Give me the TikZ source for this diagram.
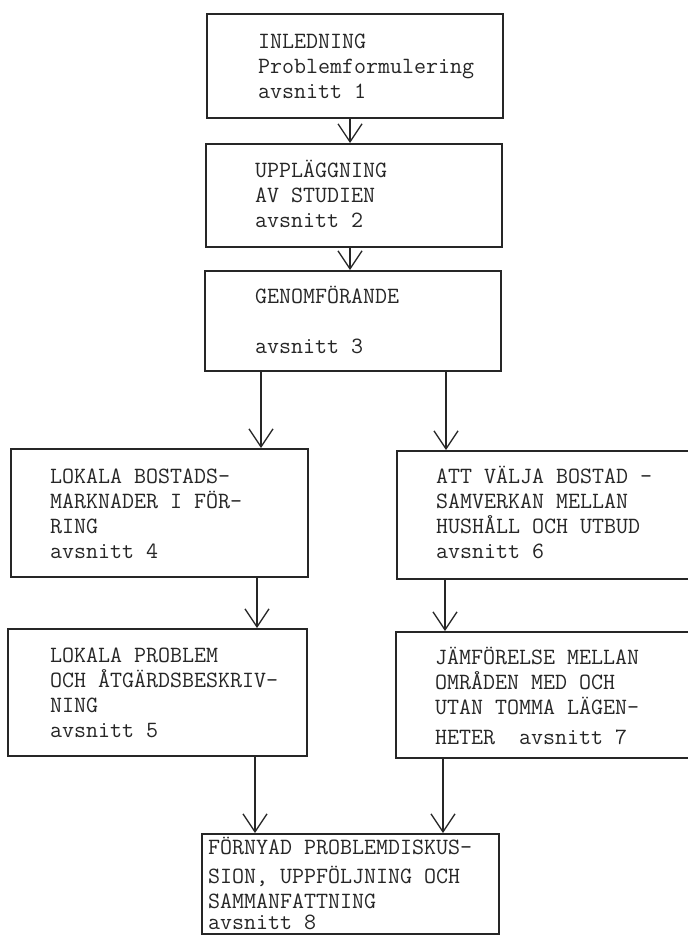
\documentclass[tikz,border=0pt]{standalone}
\usepackage{fontspec}
\usetikzlibrary{arrows.meta}
\definecolor{ink}{HTML}{262626}
% left-aligned block of lines whose baseline is that of its first line
\newcommand{\tlines}[1]{\begin{tabular}[t]{@{}l@{}}#1\end{tabular}}
\begin{document}
\begin{tikzpicture}[x=1pt,y=-1pt,
  sectbox/.style={draw=ink, line width=1.5pt, rectangle, inner sep=0pt, anchor=north west},
  sectext/.style={anchor=base west, inner sep=0pt, text=ink,
    font=\ttfamily\fontsize{23.3}{25}\selectfont},
  arr/.style={draw=ink, line width=1.3pt, -{Straight Barb[length=18pt,width=24pt]}}
]
\useasboundingbox (0,0) rectangle (688,935);
\fill[white] (0,0) rectangle (688,935);
\clip (0,0) rectangle (688,935);

% section boxes
\node[sectbox, minimum width=296pt, minimum height=104pt] (b1) at (206,13) {};
\node[sectbox, minimum width=296pt, minimum height=103pt] (b2) at (205,143) {};
\node[sectbox, minimum width=296pt, minimum height=100pt] (b3) at (204,270) {};
\node[sectbox, minimum width=297pt, minimum height=128pt] (b4) at (10,448) {};
\node[sectbox, minimum width=299pt, minimum height=127pt] (b5) at (7,628) {};
\node[sectbox, minimum width=330pt, minimum height=128pt] (b6) at (396,450) {};
\node[sectbox, minimum width=330pt, minimum height=126pt] (b7) at (395,631) {};
\node[sectbox, minimum width=297pt, minimum height=100pt] (b8) at (201,833) {};

% box texts
\node[sectext] (t1) at (258,48) {\tlines{INLEDNING\\Problemformulering\\avsnitt 1}};
\node[sectext] (t2) at (255,177) {\tlines{UPPLÄGGNING\\AV STUDIEN\\avsnitt 2}};
\node[sectext] (t3) at (255,303) {\tlines{GENOMFÖRANDE\\ \\avsnitt 3}};
\node[sectext] (t4) at (50,483) {\tlines{LOKALA BOSTADS-\\MARKNADER I FÖR-\\RING\\avsnitt 4}};
\node[sectext] (t5) at (50,662) {\tlines{LOKALA PROBLEM\\OCH ÅTGÄRDSBESKRIV-\\NING\\avsnitt 5}};
\node[sectext] (t6) at (436,483) {\tlines{ATT VÄLJA BOSTAD -\\SAMVERKAN MELLAN\\HUSHÅLL OCH UTBUD\\avsnitt 6}};
\node[sectext] (t7) at (435,664) {\tlines{JÄMFÖRELSE MELLAN\\OMRÅDEN MED OCH\\UTAN TOMMA LÄGEN-\\[5pt]HETER~~avsnitt 7}};
\node[sectext] (t8) at (208,854) {\tlines{FÖRNYAD PROBLEMDISKUS-\\[4pt]SION, UPPFÖLJNING OCH\\SAMMANFATTNING\\[-4pt]avsnitt 8}};

% connector lanes
\coordinate (lc) at (350,0);
\coordinate (l3a) at (261,0);
\coordinate (l3b) at (446,0);
\coordinate (l45) at (257,0);
\coordinate (l67) at (445,0);
\coordinate (l58) at (255,0);
\coordinate (l78) at (443,0);

% connectors
\draw[arr] (b1.south -| lc) -- (b2.north -| lc);
\draw[arr] (b2.south -| lc) -- (b3.north -| lc);
\draw[arr] (b3.south -| l3a) -- (b4.north -| l3a);
\draw[arr] (b3.south -| l3b) -- (b6.north -| l3b);
\draw[arr] (b4.south -| l45) -- (b5.north -| l45);
\draw[arr] (b6.south -| l67) -- (b7.north -| l67);
\draw[arr] (b5.south -| l58) -- (b8.north -| l58);
\draw[arr] (b7.south -| l78) -- (b8.north -| l78);
\end{tikzpicture}
\end{document}
